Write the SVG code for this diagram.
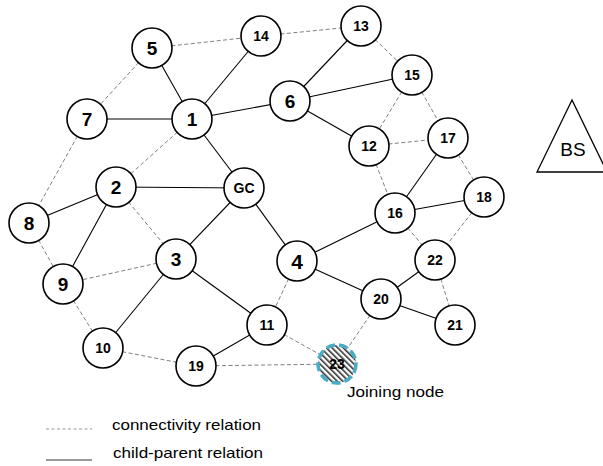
<svg xmlns="http://www.w3.org/2000/svg" width="603" height="466" viewBox="0 0 603 466">
<defs>
<pattern id="hatch" patternUnits="userSpaceOnUse" width="4" height="4" patternTransform="rotate(-45)">
<rect width="4" height="4" fill="#ffffff"/>
<rect x="0" y="0" width="1.6" height="4" fill="#333333"/>
</pattern>
<style>
.n circle{fill:#fff;stroke:#000;stroke-width:1.6}
.n text{font-family:"Liberation Sans",Arial,sans-serif;font-weight:bold;text-anchor:middle;fill:#000}
.s1{font-size:19px}
.s2{font-size:14px}
.sol{stroke:#000;stroke-width:1.1;fill:none}
.dsh{stroke:#707070;stroke-width:0.9;stroke-dasharray:4 2.5;fill:none}
.lbl{font-family:"Liberation Sans",Arial,sans-serif;font-size:15px;fill:#000}
</style>
</defs>
<rect width="603" height="466" fill="#fff"/>
<g id="connectors">
<line class="sol" x1="152" y1="48" x2="192" y2="119"/>
<line class="sol" x1="261" y1="36" x2="192" y2="119"/>
<line class="sol" x1="87" y1="119" x2="192" y2="119"/>
<line class="sol" x1="192" y1="119" x2="290" y2="101"/>
<line class="sol" x1="192" y1="119" x2="244" y2="188"/>
<line class="sol" x1="290" y1="101" x2="361" y2="26"/>
<line class="sol" x1="290" y1="101" x2="412" y2="75"/>
<line class="sol" x1="290" y1="101" x2="369" y2="146"/>
<line class="sol" x1="116" y1="187" x2="244" y2="188"/>
<line class="sol" x1="116" y1="187" x2="29" y2="223"/>
<line class="sol" x1="116" y1="187" x2="63" y2="284"/>
<line class="sol" x1="244" y1="188" x2="176" y2="259"/>
<line class="sol" x1="244" y1="188" x2="297" y2="261"/>
<line class="sol" x1="176" y1="259" x2="103" y2="348"/>
<line class="sol" x1="176" y1="259" x2="267" y2="325"/>
<line class="sol" x1="267" y1="325" x2="196" y2="366"/>
<line class="sol" x1="297" y1="261" x2="395" y2="213"/>
<line class="sol" x1="297" y1="261" x2="381" y2="299"/>
<line class="sol" x1="395" y1="213" x2="448" y2="138"/>
<line class="sol" x1="395" y1="213" x2="484" y2="197"/>
<line class="sol" x1="381" y1="299" x2="435" y2="260"/>
<line class="sol" x1="381" y1="299" x2="455" y2="325"/>
<line class="dsh" x1="152" y1="48" x2="261" y2="36"/>
<line class="dsh" x1="261" y1="36" x2="361" y2="26"/>
<line class="dsh" x1="152" y1="48" x2="87" y2="119"/>
<line class="dsh" x1="87" y1="119" x2="29" y2="223"/>
<line class="dsh" x1="192" y1="119" x2="116" y2="187"/>
<line class="dsh" x1="361" y1="26" x2="412" y2="75"/>
<line class="dsh" x1="412" y1="75" x2="369" y2="146"/>
<line class="dsh" x1="412" y1="75" x2="448" y2="138"/>
<line class="dsh" x1="369" y1="146" x2="448" y2="138"/>
<line class="dsh" x1="369" y1="146" x2="395" y2="213"/>
<line class="dsh" x1="448" y1="138" x2="484" y2="197"/>
<line class="dsh" x1="484" y1="197" x2="435" y2="260"/>
<line class="dsh" x1="395" y1="213" x2="435" y2="260"/>
<line class="dsh" x1="435" y1="260" x2="455" y2="325"/>
<line class="dsh" x1="116" y1="187" x2="176" y2="259"/>
<line class="dsh" x1="176" y1="259" x2="63" y2="284"/>
<line class="dsh" x1="29" y1="223" x2="63" y2="284"/>
<line class="dsh" x1="63" y1="284" x2="103" y2="348"/>
<line class="dsh" x1="103" y1="348" x2="196" y2="366"/>
<line class="dsh" x1="297" y1="261" x2="267" y2="325"/>
<line class="dsh" x1="267" y1="325" x2="337" y2="364"/>
<line class="dsh" x1="196" y1="366" x2="337" y2="364"/>
<line class="dsh" x1="381" y1="299" x2="337" y2="364"/>
</g>
<g id="n5" class="n"><circle cx="152" cy="48" r="20"/><text class="s1" x="152" y="55">5</text></g>
<g id="n14" class="n"><circle cx="261" cy="36" r="20"/><text class="s2" x="261" y="41">14</text></g>
<g id="n13" class="n"><circle cx="361" cy="26" r="20"/><text class="s2" x="361" y="31">13</text></g>
<g id="n15" class="n"><circle cx="412" cy="75" r="20"/><text class="s2" x="412" y="80">15</text></g>
<g id="n7" class="n"><circle cx="87" cy="119" r="20"/><text class="s1" x="87" y="126">7</text></g>
<g id="n1" class="n"><circle cx="192" cy="119" r="20"/><text class="s1" x="192" y="126">1</text></g>
<g id="n6" class="n"><circle cx="290" cy="101" r="20"/><text class="s1" x="290" y="108">6</text></g>
<g id="n12" class="n"><circle cx="369" cy="146" r="20"/><text class="s2" x="369" y="151">12</text></g>
<g id="n17" class="n"><circle cx="448" cy="138" r="20"/><text class="s2" x="448" y="143">17</text></g>
<g id="n2" class="n"><circle cx="116" cy="187" r="20"/><text class="s1" x="116" y="194">2</text></g>
<g id="nGC" class="n"><circle cx="244" cy="188" r="20"/><text class="s2" x="244" y="193">GC</text></g>
<g id="n16" class="n"><circle cx="395" cy="213" r="20"/><text class="s2" x="395" y="218">16</text></g>
<g id="n18" class="n"><circle cx="484" cy="197" r="20"/><text class="s2" x="484" y="202">18</text></g>
<g id="n8" class="n"><circle cx="29" cy="223" r="20"/><text class="s1" x="29" y="230">8</text></g>
<g id="n3" class="n"><circle cx="176" cy="259" r="20"/><text class="s1" x="176" y="266">3</text></g>
<g id="n4" class="n"><circle cx="297" cy="261" r="20"/><text x="297" y="269" style="font-size:21px">4</text></g>
<g id="n22" class="n"><circle cx="435" cy="260" r="20"/><text class="s2" x="435" y="265">22</text></g>
<g id="n9" class="n"><circle cx="63" cy="284" r="20"/><text class="s1" x="63" y="291">9</text></g>
<g id="n20" class="n"><circle cx="381" cy="299" r="20"/><text class="s2" x="381" y="304">20</text></g>
<g id="n11" class="n"><circle cx="267" cy="325" r="20"/><text class="s2" x="267" y="330">11</text></g>
<g id="n21" class="n"><circle cx="455" cy="325" r="20"/><text class="s2" x="455" y="330">21</text></g>
<g id="n10" class="n"><circle cx="103" cy="348" r="20"/><text class="s2" x="103" y="353">10</text></g>
<g id="n19" class="n"><circle cx="196" cy="366" r="20"/><text class="s2" x="196" y="371">19</text></g>
<g id="n23" class="n"><circle cx="337" cy="364" r="19" style="fill:url(#hatch);stroke:#4bacc6;stroke-width:3.5;stroke-dasharray:9 4"/><text class="s2" x="337" y="369">23</text></g>
<g id="bs">
<polygon points="572,100 537,172 607,172" fill="#fff" stroke="#000" stroke-width="1.3"/>
<text x="573" y="156" style="font-family:'Liberation Sans',Arial,sans-serif;font-size:19px;text-anchor:middle">BS</text>
</g>
<text class="lbl" x="347" y="397" textLength="97" lengthAdjust="spacingAndGlyphs">Joining node</text>
<g id="legend">
<line x1="46" y1="429" x2="92" y2="429" stroke="#888" stroke-width="0.9" stroke-dasharray="3 2.5"/>
<line x1="46" y1="460" x2="92" y2="460" stroke="#777" stroke-width="1.6"/>
<text class="lbl" x="112" y="430" textLength="149" lengthAdjust="spacingAndGlyphs">connectivity relation</text>
<text class="lbl" x="113" y="458" textLength="150" lengthAdjust="spacingAndGlyphs">child-parent relation</text>
</g>
</svg>
